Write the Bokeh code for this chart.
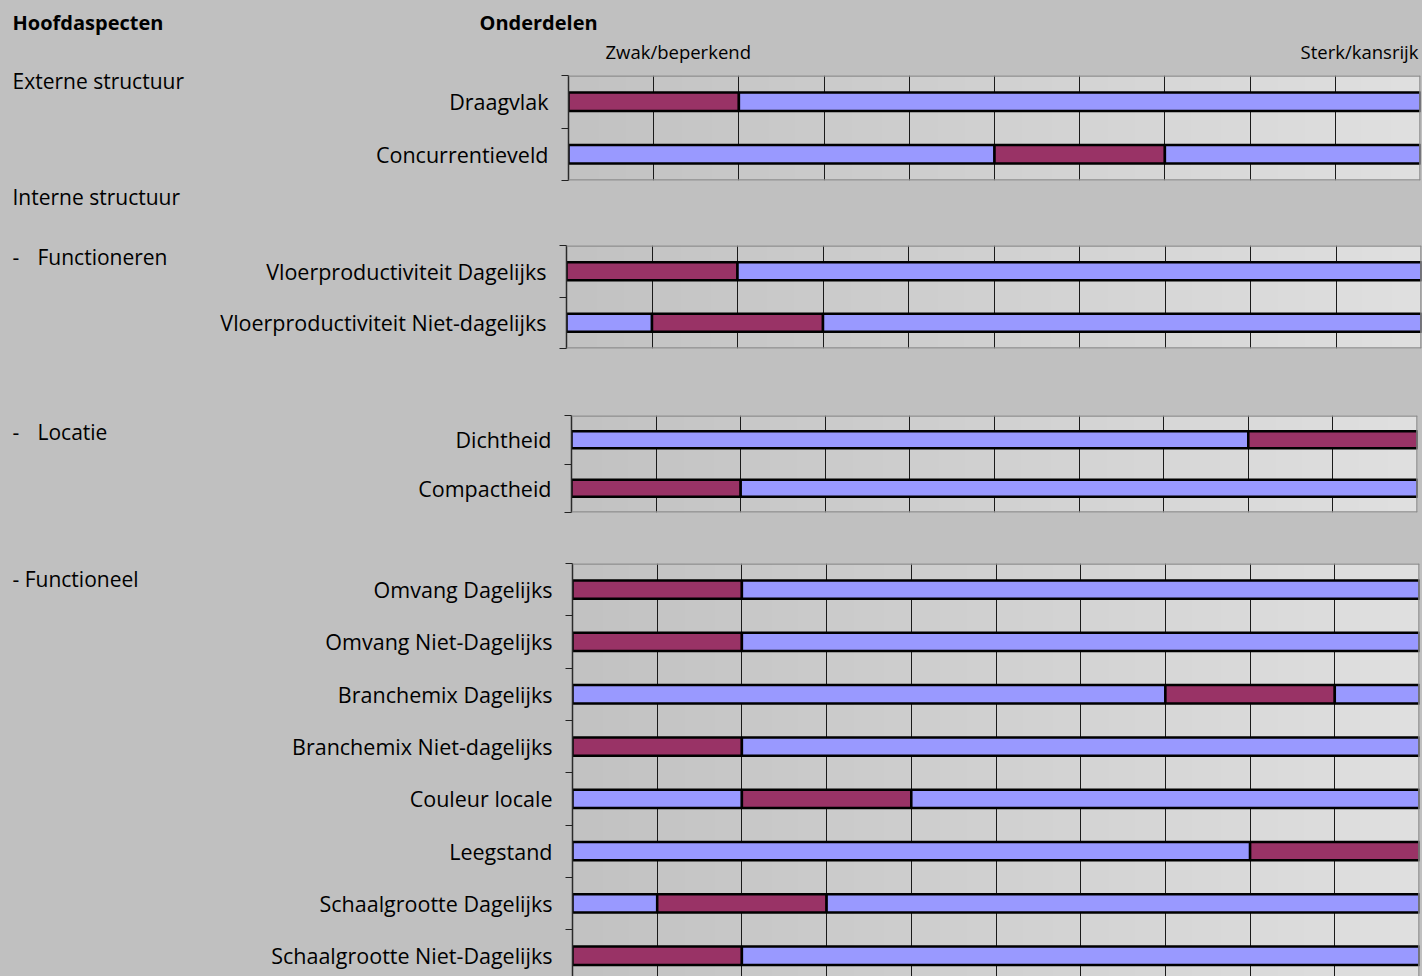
import numpy as np
from bokeh.plotting import figure
from bokeh.layouts import column, row
from bokeh.models import Range1d, FixedTicker, GlobalInlineStyleSheet, ColumnDataSource, Span
from bokeh.core.properties import value
from bokeh.embed import file_html
from bokeh.resources import INLINE

FONT = "Open Sans"
PAGE_BG = "#C0C0C0"
BLUE = "#9999FF"
PURPLE = "#993366"
BORDER = "#8C8C8C"

# ---------------- data ----------------
section_titles = ["Externe structuur", "Interne structuur", "Functioneren", "Locatie", "- Functioneel"]
header_left = "Hoofdaspecten"
header_right = "Onderdelen"
scale_low_label = "Zwak/beperkend"
scale_high_label = "Sterk/kansrijk"
scale_ticks = [0, 1, 2, 3, 4, 5, 6, 7, 8, 9, 10]

ext_labels = ["Draagvlak", "Concurrentieveld"]
ext_weak = [0, 5]
ext_band = [2, 2]
ext_strong = [8, 3]

func_labels = ["Vloerproductiviteit Dagelijks", "Vloerproductiviteit Niet-dagelijks"]
func_weak = [0, 1]
func_band = [2, 2]
func_strong = [8, 7]

loc_labels = ["Dichtheid", "Compactheid"]
loc_weak = [8, 0]
loc_band = [2, 2]
loc_strong = [0, 8]

fn_labels = ["Omvang Dagelijks", "Omvang Niet-Dagelijks", "Branchemix Dagelijks",
             "Branchemix Niet-dagelijks", "Couleur locale", "Leegstand",
             "Schaalgrootte Dagelijks", "Schaalgrootte Niet-Dagelijks"]
fn_weak = [0, 0, 7, 0, 2, 8, 1, 0]
fn_band = [2, 2, 2, 2, 2, 2, 2, 2]
fn_strong = [8, 8, 1, 8, 6, 0, 7, 8]

# layout geometry in page pixels
COL_X = 215
PAGE_RIGHT = 1422
PAGE_BOTTOM = 976

# horizontal gradient for the plot areas (Excel-like fill)
_g = np.linspace(0xC2, 0xE0, 256).astype(np.uint32)
GRAD = np.empty((2, 256), dtype=np.uint32)
GRAD[:] = (255 << 24) | (_g << 16) | (_g << 8) | _g


def panel(labels, weak, band, strong, top_ref, bottom_ref, frame_top, frame_bottom,
          x0, x10, y_extent=None):
    n = len(labels)
    centers = [i + 0.5 for i in range(n)]
    bounds = [float(i) for i in range(n + 1)]
    y_end = y_extent if y_extent is not None else n
    p = figure(width=PAGE_RIGHT - COL_X, height=bottom_ref - top_ref,
               x_range=Range1d(scale_ticks[0], scale_ticks[-1]), y_range=Range1d(y_end, 0),
               x_axis_location=None, y_axis_location="left",
               output_backend="svg", toolbar_location=None,
               min_border_left=x0 - COL_X, min_border_right=PAGE_RIGHT - x10,
               min_border_top=frame_top - top_ref, min_border_bottom=bottom_ref - frame_bottom,
               background_fill_color="#D2D2D2", border_fill_color=PAGE_BG,
               outline_line_color=None)
    p.frame_align = False
    p.image_rgba(image=[GRAD], x=scale_ticks[0], y=0, dw=scale_ticks[-1], dh=n, level="image")
    p.ygrid.visible = False
    p.xgrid.ticker = FixedTicker(ticks=scale_ticks[1:-1])
    p.xgrid.grid_line_color = "#1a1a1a"
    p.xgrid.grid_line_width = 1
    ax = p.yaxis[0]
    ax.ticker = FixedTicker(ticks=centers, minor_ticks=bounds)
    ax.major_label_overrides = {c: l for c, l in zip(centers, labels)}
    ax.major_tick_line_color = None
    ax.major_tick_out = 0
    ax.major_tick_in = 0
    ax.minor_tick_line_color = "#222222"
    ax.minor_tick_out = 7
    ax.minor_tick_in = 0
    ax.minor_tick_line_width = 1
    ax.axis_line_color = "#2a2a2a"
    ax.axis_line_width = 1.5
    ax.major_label_standoff = 13
    ax.major_label_text_font = FONT
    ax.major_label_text_font_size = "21.5px"
    ax.major_label_text_color = "#000000"

    ys, lefts, rights, colors = [], [], [], []
    for c, w, b, s in zip(centers, weak, band, strong):
        segs = [(0, w, BLUE), (w, w + b, PURPLE), (w + b, w + b + s, BLUE)]
        for l, r, col in segs:
            if r > l:
                ys.append(c); lefts.append(l); rights.append(r); colors.append(col)
    src = ColumnDataSource(dict(y=ys, left=lefts, right=rights, color=colors))
    p.hbar(y="y", left="left", right="right", height=0.35, fill_color="color",
           line_color="#000000", line_width=2.5, source=src)
    p.add_layout(Span(location=0, dimension="width", line_color=BORDER, line_width=2.5))
    p.add_layout(Span(location=scale_ticks[-1], dimension="height", line_color=BORDER, line_width=2.5))
    if y_extent is None:
        p.add_layout(Span(location=n, dimension="width", line_color=BORDER, line_width=2.5))
    return p


def text_fig(width, height, xr, yr):
    f = figure(width=width, height=height, x_range=Range1d(*xr), y_range=Range1d(*yr),
               x_axis_location=None, y_axis_location=None,
               output_backend="svg", toolbar_location=None,
               min_border_left=0, min_border_right=0, min_border_top=0, min_border_bottom=0,
               background_fill_color=PAGE_BG, border_fill_color=PAGE_BG, outline_line_color=None)
    f.frame_align = False
    f.grid.visible = False
    return f


# left column with section titles
left = text_fig(COL_X, PAGE_BOTTOM, (0, COL_X), (PAGE_BOTTOM, 0))
left.text(x=[12], y=[22], text=[header_left], text_font=value(FONT), text_font_size="20px",
          text_font_style="bold", text_baseline="middle", text_align="left", text_color="#000000")
left.text(x=[12, 12, 37, 37, 12], y=[80, 196, 256, 431, 578], text=section_titles,
          text_font=value(FONT), text_font_size="21px", text_baseline="middle",
          text_align="left", text_color="#000000")
left.text(x=[12, 12], y=[256, 431], text=["-", "-"], text_font=value(FONT), text_font_size="21px",
          text_baseline="middle", text_align="left", text_color="#000000")

# header on the right column
head = text_fig(PAGE_RIGHT - COL_X, 70, (COL_X, PAGE_RIGHT), (70, 0))
head.text(x=[479], y=[22], text=[header_right], text_font=value(FONT), text_font_size="20px",
          text_font_style="bold", text_baseline="middle", text_align="left", text_color="#000000")
head.text(x=[605], y=[51], text=[scale_low_label], text_font=value(FONT), text_font_size="18.5px",
          text_baseline="middle", text_align="left", text_color="#000000")
head.text(x=[1418], y=[51], text=[scale_high_label], text_font=value(FONT), text_font_size="18.5px",
          text_baseline="middle", text_align="right", text_color="#000000")

p1 = panel(ext_labels, ext_weak, ext_band, ext_strong, 70, 188, 75, 180, 568, 1420)
p2 = panel(func_labels, func_weak, func_band, func_strong, 188, 360, 245, 348, 566, 1421)
p3 = panel(loc_labels, loc_weak, loc_band, loc_strong, 360, 525, 415, 512, 571, 1417)
p4 = panel(fn_labels, fn_weak, fn_band, fn_strong, 525, PAGE_BOTTOM, 563, PAGE_BOTTOM, 572, 1419,
           y_extent=(PAGE_BOTTOM - 563) / 52.3)

right = column(head, p1, p2, p3, p4, spacing=0)
layout = row(left, right, spacing=0,
             stylesheets=[GlobalInlineStyleSheet(css="body{background:#C0C0C0;}")])

open("out.html", "w").write(file_html(layout, INLINE))
